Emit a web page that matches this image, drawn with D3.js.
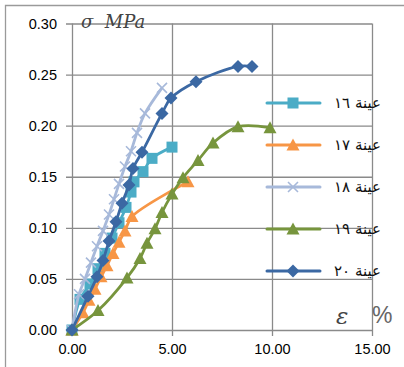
<!DOCTYPE html>
<html>
<head>
<meta charset="utf-8">
<script src="https://cdn.jsdelivr.net/npm/d3@7"></script>
<style>
  body { margin: 0; background: #fff; }
  svg { display: block; }
</style>
</head>
<body>
<div id="chart"></div>
<script>
// strain (%) and stress (MPa), one pair of arrays per sample
const names = ['عينة ١٦', 'عينة ١٧', 'عينة ١٨', 'عينة ١٩', 'عينة ٢٠']

const strain16 = [0, 0.4, 0.9, 1.3, 1.65, 2.0, 2.35, 2.7, 2.95, 3.1, 3.55, 4.0, 5.0]
const stress16 = [0, 0.030, 0.045, 0.060, 0.075, 0.090, 0.105, 0.120, 0.135, 0.145, 0.155, 0.168, 0.179]

const strain17 = [0, 0.55, 0.85, 1.15, 1.45, 1.75, 2.05, 2.35, 2.65, 3.0, 5.8]
const stress17 = [0, 0.017, 0.029, 0.040, 0.052, 0.063, 0.075, 0.086, 0.097, 0.111, 0.145]

const strain18 = [0, 0.35, 0.65, 0.95, 1.25, 1.55, 1.85, 2.1, 2.35, 2.65, 2.95, 3.25, 3.65, 4.5]
const stress18 = [0, 0.035, 0.050, 0.066, 0.082, 0.097, 0.113, 0.128, 0.143, 0.160, 0.175, 0.193, 0.212, 0.237]

const strain19 = [0, 1.3, 2.75, 3.4, 3.75, 4.15, 4.5, 5.0, 5.55, 6.3, 7.05, 8.3, 9.9]
const stress19 = [0, 0.019, 0.051, 0.070, 0.085, 0.099, 0.115, 0.133, 0.149, 0.166, 0.183, 0.199, 0.198]

const strain20 = [0, 0.8, 1.25, 1.55, 1.85, 2.2, 2.5, 2.85, 3.05, 3.5, 4.5, 4.95, 6.2, 8.3, 9.0]
const stress20 = [0, 0.033, 0.052, 0.068, 0.087, 0.106, 0.124, 0.142, 0.158, 0.174, 0.212, 0.227, 0.243, 0.258, 0.258]

const xTicks = [0, 5, 10, 15]
const yTicks = [0, 0.05, 0.10, 0.15, 0.20, 0.25, 0.30]

const colors = ['#4BACC6', '#F79646', '#A7B9DA', '#77953D', '#3B68A3']
const symbols = ['square', 'triangle', 'cross', 'triangle', 'diamond']

const series = [
  [strain16, stress16],
  [strain17, stress17],
  [strain18, stress18],
  [strain19, stress19],
  [strain20, stress20]
].map((s, i) => ({
  name: names[i],
  color: colors[i],
  symbol: symbols[i],
  values: s[0].map((e, j) => ({ e: e, s: s[1][j] }))
}))

const W = 404
const H = 367
const margin = { top: 23.5, left: 72, right: 32, bottom: 37 }
const width = W - margin.left - margin.right
const height = H - margin.top - margin.bottom

const svg = d3.select('#chart')
  .append('svg')
  .attr('width', W)
  .attr('height', H)

// outer chart frame (right/bottom fall outside the picture)
svg.append('path')
  .attr('d', 'M5.5,' + H + 'V5.5H' + W)
  .attr('fill', 'none')
  .attr('stroke', '#9a9a9a')
  .attr('stroke-width', 1.3)

const g = svg.append('g')
  .attr('transform', 'translate(' + margin.left + ',' + margin.top + ')')

const xPositionScale = d3.scaleLinear().domain([0, 15]).range([0, width])
const yPositionScale = d3.scaleLinear().domain([0, 0.30]).range([height, 0])

// gridlines + axes
const yAxis = d3.axisLeft(yPositionScale)
  .tickValues(yTicks)
  .tickFormat(d3.format('.2f'))
  .tickSizeInner(-width)
  .tickSizeOuter(0)
  .tickPadding(15)
g.append('g')
  .attr('class', 'axis y-axis')
  .call(yAxis)
  .call(a => a.select('.domain').remove())
g.selectAll('.y-axis .tick line')
  .attr('x1', -6)
  .attr('stroke', '#8a8a8a')
  .attr('stroke-width', 1.3)

const xAxis = d3.axisBottom(xPositionScale)
  .tickValues(xTicks)
  .tickFormat(d3.format('.2f'))
  .tickSizeInner(-height)
  .tickSizeOuter(0)
  .tickPadding(14)
g.append('g')
  .attr('class', 'axis x-axis')
  .attr('transform', 'translate(0,' + height + ')')
  .call(xAxis)
  .call(a => a.select('.domain').remove())
g.selectAll('.x-axis .tick line')
  .attr('y1', 6)
  .attr('stroke', '#8a8a8a')
  .attr('stroke-width', 1.3)

g.selectAll('.axis text')
  .attr('font-family', 'Liberation Sans, Arial, sans-serif')
  .attr('font-size', 14.5)
  .attr('fill', '#000')

// axis titles
svg.append('text')
  .attr('x', 81)
  .attr('y', 28)
  .attr('font-family', 'DejaVu Serif, serif')
  .attr('font-style', 'italic')
  .attr('font-size', 18)
  .attr('fill', '#444')
  .attr('xml:space', 'preserve')
  .text('σ  MPa')

svg.append('text')
  .attr('x', 336)
  .attr('y', 324)
  .attr('font-family', 'DejaVu Serif, serif')
  .attr('font-style', 'italic')
  .attr('font-size', 23)
  .attr('fill', '#444')
  .text('ε')

svg.append('text')
  .attr('x', 372)
  .attr('y', 323)
  .attr('font-family', 'Liberation Sans, sans-serif')
  .attr('font-size', 23)
  .attr('fill', '#666')
  .text('%')

// series lines
const line = d3.line()
  .x(d => xPositionScale(d.e))
  .y(d => yPositionScale(d.s))
  .curve(d3.curveCatmullRom)

function drawMarker(sel, sym, color) {
  if (sym === 'square') {
    sel.append('rect')
      .attr('x', -5.5).attr('y', -5.5).attr('width', 11).attr('height', 11)
      .attr('fill', color)
  } else if (sym === 'triangle') {
    sel.append('path')
      .attr('d', 'M0,-6.5L6.5,5.5H-6.5Z')
      .attr('fill', color)
  } else if (sym === 'diamond') {
    sel.append('path')
      .attr('d', 'M0,-6.5L6.5,0L0,6.5L-6.5,0Z')
      .attr('fill', color)
  } else {
    sel.append('path')
      .attr('d', 'M-5,-5L5,5M-5,5L5,-5')
      .attr('stroke', color)
      .attr('stroke-width', 1.6)
  }
}

series.forEach(function(s) {
  g.append('path')
    .datum(s.values)
    .attr('d', line)
    .attr('fill', 'none')
    .attr('stroke', s.color)
    .attr('stroke-width', 2.8)

  g.selectAll(null)
    .data(s.values)
    .enter()
    .append('g')
    .attr('transform', d => 'translate(' + xPositionScale(d.e) + ',' + yPositionScale(d.s) + ')')
    .each(function() {
      drawMarker(d3.select(this), s.symbol, s.color)
    })
})

// legend
const legend = svg.append('g')
  .selectAll('g')
  .data(series)
  .enter()
  .append('g')
  .attr('transform', (d, i) => 'translate(0,' + (103 + i * 42) + ')')

legend.append('line')
  .attr('x1', 267)
  .attr('x2', 320)
  .attr('stroke', d => d.color)
  .attr('stroke-width', 3)
  .attr('stroke-linecap', 'round')

legend.append('g')
  .attr('transform', 'translate(293,0)')
  .each(function(d) {
    drawMarker(d3.select(this), d.symbol, d.color)
  })

legend.append('text')
  .attr('x', 381)
  .attr('y', 5)
  .attr('text-anchor', 'end')
  .attr('font-family', 'DejaVu Sans, sans-serif')
  .attr('font-size', 15)
  .attr('fill', '#111')
  .text(d => d.name)
</script>
</body>
</html>
